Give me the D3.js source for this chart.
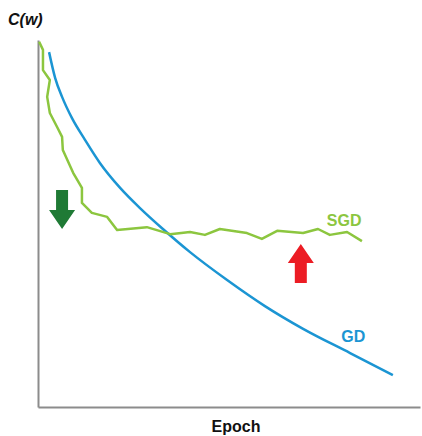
<!DOCTYPE html>
<html>
<head>
<meta charset="utf-8">
<script src="https://d3js.org/d3.v7.min.js"></script>
<style>
  body { margin: 0; background: #fff; }
  text { font-family: "Liberation Sans", Arial, sans-serif; font-weight: bold; }
</style>
</head>
<body>
<div class="chart"></div>
<script>
// ======= COST VS EPOCH: GD AND SGD =======

// epoch (0-100) and cost (0-100)
const gdEpoch = [2.9, 4.5, 6.3, 8.9, 12.3, 16.2, 21.5, 26.7, 32.7, 39.8, 49.5, 59.4, 69.4, 81.7, 92.9]
const gdCost = [96.7, 89.6, 84.5, 78.7, 72.8, 66.5, 59.7, 54.2, 48.5, 42.2, 34.6, 27.5, 21.3, 14.7, 8.7]

const sgdEpoch = [0.3, 1.3, 1.3, 3.1, 2.4, 3.1, 5.0, 6.3, 6.5, 9.2, 11.5, 11.5, 14.1, 18.1, 20.7,
  28.5, 34.6, 39.8, 43.7, 47.6, 54.7, 58.6, 62.6, 69.4, 73.3, 76.4, 80.9, 84.8]
const sgdCost = [99.5, 97.3, 91.8, 89.1, 84.5, 80.1, 76.3, 73.6, 70.0, 63.8, 59.7, 55.6, 52.9, 51.8, 48.2,
  49.0, 47.1, 47.7, 46.9, 48.5, 47.4, 45.8, 48.0, 47.4, 48.5, 46.9, 47.7, 45.2]

// arrow tips: [epoch, cost, direction]
const arrows = [
  { epoch: 6.3, cost: 48.5, dir: 1, color: '#1f7a35' },   // down
  { epoch: 68.8, cost: 44.4, dir: -1, color: '#ec1c24' }  // up
]

const labels = [
  { text: 'SGD', epoch: 75.6, cost: 49.4, color: '#8cc63f' },
  { text: 'GD', epoch: 79.4, cost: 17.6, color: '#1b95d3' }
]

const W = 422
const H = 436
const margin = { top: 40, right: 2, bottom: 29, left: 38 }

const svg = d3.select('.chart')
  .append('svg')
    .attr('width', W)
    .attr('height', H)

const xScale = d3.scaleLinear()
  .domain([0, 100])
  .range([margin.left, W - margin.right])

const yScale = d3.scaleLinear()
  .domain([0, 100])
  .range([H - margin.bottom, margin.top])

// axes without ticks, just the lines
const xAxis = d3.axisBottom(xScale).tickValues([]).tickSizeOuter(0)
const yAxis = d3.axisLeft(yScale).tickValues([]).tickSizeOuter(0)

svg.append('g')
  .attr('transform', `translate(0, ${yScale(0)})`)
  .call(xAxis)
  .select('.domain')
    .attr('stroke', '#8c8c8c')
    .attr('stroke-width', 2)

svg.append('g')
  .attr('transform', `translate(${xScale(0)}, 0)`)
  .call(yAxis)
  .select('.domain')
    .attr('stroke', '#8c8c8c')
    .attr('stroke-width', 2)

const line = d3.line()
  .x(d => xScale(d[0]))
  .y(d => yScale(d[1]))

svg.append('path')
  .datum(d3.zip(gdEpoch, gdCost))
  .attr('d', line.curve(d3.curveMonotoneX))
  .attr('fill', 'none')
  .attr('stroke', '#1b95d3')
  .attr('stroke-width', 2.5)

svg.append('path')
  .datum(d3.zip(sgdEpoch, sgdCost))
  .attr('d', line.curve(d3.curveLinear))
  .attr('fill', 'none')
  .attr('stroke', '#8cc63f')
  .attr('stroke-width', 2.5)
  .attr('stroke-linejoin', 'round')

// block arrows
const headW = 13
const shaftW = 6
const headL = 19
const totalL = 39

svg.selectAll('.arrow')
  .data(arrows)
  .join('path')
    .attr('class', 'arrow')
    .attr('fill', d => d.color)
    .attr('d', d => {
      const x = xScale(d.epoch)
      const y = yScale(d.cost)
      const s = -d.dir // tail lies opposite the pointing direction
      return `M${x},${y} L${x - headW},${y + s * headL} L${x - shaftW},${y + s * headL}
        L${x - shaftW},${y + s * totalL} L${x + shaftW},${y + s * totalL}
        L${x + shaftW},${y + s * headL} L${x + headW},${y + s * headL} Z`
    })

svg.selectAll('.label')
  .data(labels)
  .join('text')
    .attr('class', 'label')
    .attr('x', d => xScale(d.epoch))
    .attr('y', d => yScale(d.cost))
    .attr('fill', d => d.color)
    .attr('font-size', 16)
    .text(d => d.text)

svg.append('text')
  .attr('x', 8)
  .attr('y', 25)
  .attr('font-size', 16)
  .attr('font-style', 'italic')
  .attr('fill', '#111')
  .text('C(w)')

svg.append('text')
  .attr('x', 236)
  .attr('y', 432)
  .attr('text-anchor', 'middle')
  .attr('font-size', 16)
  .attr('fill', '#111')
  .text('Epoch')
</script>
</body>
</html>
